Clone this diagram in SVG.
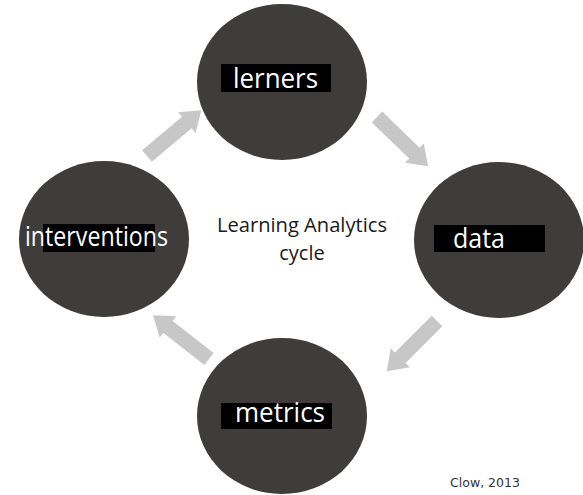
<svg xmlns="http://www.w3.org/2000/svg" width="583" height="495" viewBox="0 0 583 495">
  <style>
    .node { fill: #3f3d3c; }
    .tag { fill: #000000; }
    .label { font-family: "Open Sans", "Noto Sans", sans-serif; font-size: 28px; fill: #ffffff; }
    .title { font-family: "Open Sans", "Noto Sans", sans-serif; font-size: 20px; fill: #1a1a1a; text-anchor: middle; }
    .credit { font-family: "DejaVu Sans", "Noto Sans", sans-serif; font-size: 13px; fill: #333333; }
    .arrow { fill: #c7c7c7; }
  </style>
  <defs>
    <!-- block arrow pointing along +x, tail at origin -->
    <path id="blockArrow" d="M0,-7.5 L52,-7.5 L52,-13.5 L71,0 L52,13.5 L52,7.5 L0,7.5 Z"/>
  </defs>
  <rect width="583" height="495" fill="#ffffff"/>

  <g id="connectors">
    <use href="#blockArrow" class="arrow" transform="translate(147,156) rotate(-40)"/>
    <use href="#blockArrow" class="arrow" transform="translate(377,117) rotate(44)"/>
    <use href="#blockArrow" class="arrow" transform="translate(437,321) rotate(135)"/>
    <use href="#blockArrow" class="arrow" transform="translate(209,359) rotate(-142)"/>
  </g>

  <g id="lerners">
    <ellipse class="node" cx="282" cy="82" rx="85" ry="78"/>
    <rect class="tag" x="221" y="64" width="110" height="28"/>
    <text class="label" x="233" y="88" textLength="85" lengthAdjust="spacingAndGlyphs">lerners</text>
  </g>

  <g id="data">
    <ellipse class="node" cx="499" cy="240" rx="85" ry="78"/>
    <rect class="tag" x="434" y="225" width="111" height="27"/>
    <text class="label" x="453" y="248" textLength="52" lengthAdjust="spacingAndGlyphs">data</text>
  </g>

  <g id="metrics">
    <ellipse class="node" cx="282" cy="416" rx="85" ry="78"/>
    <rect class="tag" x="221" y="403" width="111" height="26"/>
    <text class="label" x="235" y="422" textLength="90" lengthAdjust="spacingAndGlyphs">metrics</text>
  </g>

  <g id="interventions">
    <ellipse class="node" cx="104" cy="239" rx="85" ry="78"/>
    <rect class="tag" x="43" y="224" width="112" height="28"/>
    <text class="label" x="25" y="246" textLength="143" lengthAdjust="spacingAndGlyphs">interventions</text>
  </g>

  <g id="cycle-title">
    <text class="title" x="302" y="232" textLength="170" lengthAdjust="spacingAndGlyphs">Learning Analytics</text>
    <text class="title" x="302" y="260">cycle</text>
  </g>

  <text class="credit" x="450" y="487" textLength="70" lengthAdjust="spacingAndGlyphs">Clow, 2013</text>
</svg>
